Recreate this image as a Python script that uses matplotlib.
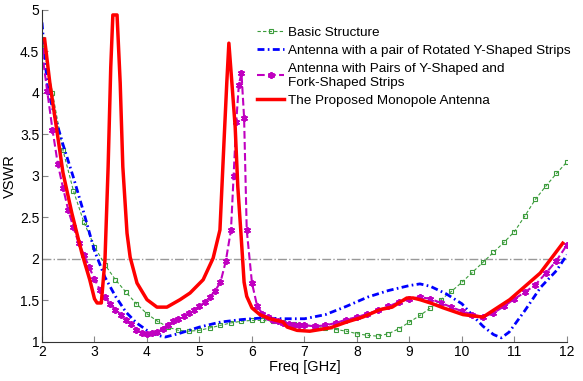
import matplotlib
matplotlib.use('Agg')
import matplotlib.pyplot as plt
import numpy as np

plt.rcParams['font.family'] = ['Liberation Sans', 'DejaVu Sans']

# Basic Structure
f_basic = [2.0, 2.2, 2.4, 2.6, 2.8, 3.0, 3.2, 3.4, 3.6, 3.8, 4.0, 4.2, 4.4, 4.6, 4.8,
           5.0, 5.2, 5.4, 5.6, 5.8, 6.0, 6.2, 6.4, 6.6, 6.8, 7.0, 7.2, 7.4, 7.6, 7.8,
           8.0, 8.2, 8.4, 8.6, 8.8, 9.0, 9.2, 9.4, 9.6, 9.8, 10.0, 10.2, 10.4, 10.6,
           10.8, 11.0, 11.2, 11.4, 11.6, 11.8, 12.0]
v_basic = [4.65, 4.0, 3.31, 2.82, 2.44, 2.15, 1.93, 1.75, 1.6, 1.46, 1.34, 1.25, 1.18,
           1.14, 1.13, 1.14, 1.17, 1.2, 1.23, 1.25, 1.26, 1.26, 1.25, 1.24, 1.22,
           1.21, 1.19, 1.17, 1.15, 1.13, 1.1, 1.08, 1.07, 1.1, 1.16, 1.24, 1.32,
           1.41, 1.51, 1.61, 1.72, 1.84, 1.96, 2.08, 2.2, 2.33, 2.52, 2.72, 2.88,
           3.03, 3.17]

# Antenna with a pair of Rotated Y-Shaped Strips
f_rot = [2.0, 2.1, 2.2, 2.4, 2.6, 2.8, 3.0, 3.2, 3.4, 3.6, 3.8, 4.0, 4.2, 4.35, 4.6, 4.8,
         5.0, 5.4, 5.8, 6.2, 6.6, 7.0, 7.4, 7.8, 8.2, 8.6, 9.0, 9.2, 9.4, 9.7, 10.0,
         10.2, 10.4, 10.6, 10.75, 10.9, 11.2, 11.5, 11.8, 12.0]
v_rot = [4.85, 4.1, 3.82, 3.38, 2.98, 2.55, 2.1, 1.78, 1.55, 1.36, 1.23, 1.14, 1.08, 1.06,
         1.1, 1.14, 1.18, 1.24, 1.27, 1.29, 1.28, 1.28, 1.33, 1.43, 1.54, 1.62,
         1.68, 1.7, 1.67, 1.58, 1.46, 1.32, 1.19, 1.09, 1.05, 1.12, 1.38, 1.66,
         1.86, 2.05]

# Antenna with Pairs of Y-Shaped and Fork-Shaped Strips
f_fork = [2.0, 2.1, 2.2, 2.3, 2.4, 2.5, 2.6, 2.7, 2.8, 2.9, 3.0, 3.1, 3.2, 3.3, 3.4,
          3.5, 3.6, 3.7, 3.8, 3.9, 4.0, 4.1, 4.2, 4.3, 4.4, 4.5, 4.6, 4.7, 4.8, 4.9,
          5.0, 5.1, 5.2, 5.3, 5.4, 5.5, 5.6, 5.65, 5.7, 5.75, 5.8, 5.85, 5.9, 6.0,
          6.1, 6.2, 6.3, 6.4, 6.5, 6.6, 6.7, 6.8, 6.9, 7.0, 7.2, 7.4, 7.6, 7.8, 8.0,
          8.2, 8.4, 8.6, 8.8, 9.0, 9.2, 9.4, 9.6, 9.8, 10.0, 10.2, 10.4, 10.6, 10.8,
          11.0, 11.2, 11.4, 11.6, 11.8, 12.0]
v_fork = [4.5, 4.02, 3.56, 3.15, 2.86, 2.59, 2.38, 2.19, 2.05, 1.9, 1.76, 1.63, 1.54,
          1.46, 1.39, 1.33, 1.27, 1.22, 1.15, 1.11, 1.1, 1.11, 1.12, 1.16, 1.21, 1.25,
          1.28, 1.31, 1.35, 1.39, 1.43, 1.48, 1.54, 1.62, 1.72, 1.97, 2.35, 3.0, 3.65,
          4.1, 4.24, 3.7, 2.35, 1.71, 1.43, 1.34, 1.3, 1.27, 1.25, 1.23, 1.22, 1.21,
          1.2, 1.2, 1.19, 1.2, 1.23, 1.27, 1.3, 1.34, 1.38, 1.43, 1.48, 1.52, 1.54,
          1.52, 1.47, 1.42, 1.37, 1.33, 1.3, 1.35, 1.43, 1.52, 1.6, 1.69, 1.83, 1.98,
          2.17]

# The Proposed Monopole Antenna
f_prop = [2.05, 2.15, 2.29, 2.4, 2.57, 2.76, 2.91, 3.0, 3.05, 3.13, 3.2, 3.26, 3.31,
          3.35, 3.43, 3.49, 3.54, 3.62, 3.68, 3.81, 4.0, 4.19, 4.38, 4.63, 4.82, 5.07,
          5.26, 5.39, 5.47, 5.52, 5.56, 5.62, 5.68, 5.73, 5.79, 5.85, 5.9, 6.0, 6.15,
          6.34, 6.53, 6.59, 6.67, 6.86, 7.1, 7.49, 7.8, 8.11, 8.44, 8.67, 8.82, 8.95,
          9.07, 9.2, 9.4, 9.65, 10.02, 10.4, 10.91, 11.49, 11.92]
v_prop = [4.65, 4.12, 3.52, 3.04, 2.55, 2.07, 1.75, 1.52, 1.47, 1.47, 1.99, 3.11, 4.31,
          4.94, 4.94, 4.12, 3.11, 2.31, 2.02, 1.71, 1.51, 1.42, 1.42, 1.51, 1.59, 1.75,
          2.01, 2.35, 3.45, 4.12, 4.6, 4.1, 3.59, 2.87, 2.31, 1.72, 1.55, 1.41, 1.33,
          1.28, 1.25, 1.24, 1.18, 1.14, 1.13, 1.17, 1.24, 1.3, 1.39, 1.42, 1.48, 1.53,
          1.53, 1.51, 1.47, 1.41, 1.33, 1.3, 1.51, 1.83, 2.19]

labels = ['Basic Structure',
          'Antenna with a pair of Rotated Y-Shaped Strips',
          'Antenna with Pairs of Y-Shaped and\nFork-Shaped Strips',
          'The Proposed Monopole Antenna']

fig = plt.figure(figsize=(5.83, 3.81), dpi=100)
ax = fig.add_axes([0.072, 0.1024, 0.9005, 0.8714])

ax.axhline(2, color='#999999', linestyle='-.', linewidth=1)
ax.plot(f_basic, v_basic, color='#3c9c3c', linestyle='--', dashes=(3, 2), linewidth=0.8,
        marker='s', markersize=3, markerfacecolor='none', markeredgewidth=0.8,
        label=labels[0])
ax.plot(f_rot, v_rot, color='#0000ff', linestyle='-.', dashes=(2.5, 1.2, 0.6, 1.2),
        linewidth=2, label=labels[1])
ax.plot(f_fork, v_fork, color='#c000c0', linestyle='--', linewidth=1.5,
        marker=(6, 2, 0), markersize=5, markeredgewidth=1.3, label=labels[2])
ax.plot(f_prop, v_prop, color='#ff0000', linestyle='-', linewidth=2.5, label=labels[3])

ax.set_xlim(2, 12)
ax.set_ylim(1, 5)
ax.set_xticks(np.arange(2, 13, 1))
ax.set_yticks(np.arange(1, 5.01, 0.5))
ax.set_yticklabels(['1', '1.5', '2', '2.5', '3', '3.5', '4', '4.5', '5'])
ax.tick_params(direction='in', length=4, color='#888888', labelsize=10, pad=2)
for s in ['top', 'right']:
    ax.spines[s].set_visible(False)
for s in ['left', 'bottom']:
    ax.spines[s].set_color('#333333')

ax.set_xlabel('Freq [GHz]', fontsize=10.5, labelpad=1)
ax.set_ylabel('VSWR', fontsize=10.5, labelpad=2)

ax.legend(loc='upper left', bbox_to_anchor=(0.41, 0.95), frameon=False,
          fontsize=9.7, borderpad=0, borderaxespad=0, handlelength=2.0,
          handletextpad=0.25, labelspacing=0.42)

fig.savefig('out.png', dpi=100)
